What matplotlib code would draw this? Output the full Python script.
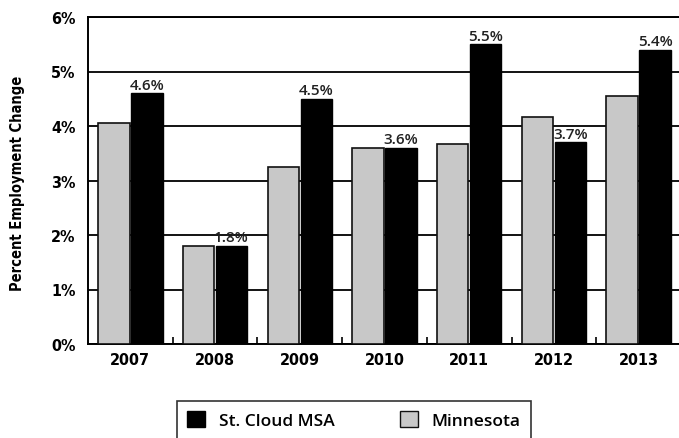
import numpy as np
import matplotlib
matplotlib.use("Agg")
from matplotlib import pyplot as plt
from matplotlib.patches import Patch

years = ["2007", "2008", "2009", "2010", "2011", "2012", "2013"]
minnesota = [4.05, 1.8, 3.25, 3.6, 3.67, 4.17, 4.55]
st_cloud = [4.6, 1.8, 4.5, 3.6, 5.5, 3.7, 5.4]
st_cloud_labels = ["4.6%", "1.8%", "4.5%", "3.6%", "5.5%", "3.7%", "5.4%"]
y_ticks = [0, 1, 2, 3, 4, 5, 6]
y_tick_labels = ["0%", "1%", "2%", "3%", "4%", "5%", "6%"]

W, H = 679, 439
fig = plt.figure(figsize=(W / 100, H / 100), dpi=100)
ax = fig.add_axes([88 / W, (H - 345) / H, (681 - 88) / W, (345 - 18) / H])

x = np.arange(len(years))
bw = 0.37
gap = 0.01
ax.bar(x - bw / 2 - gap, minnesota, bw, color="#c8c8c8", edgecolor="#111111",
       linewidth=1.2, zorder=3)
ax.bar(x + bw / 2 + gap, st_cloud, bw, color="black", edgecolor="black",
       linewidth=1.0, zorder=3)

for xi, v, lab in zip(x, st_cloud, st_cloud_labels):
    ax.text(xi + bw / 2 + gap, v + 0.03, lab, ha="center", va="bottom",
            fontsize=11, family="Open Sans", fontweight="semibold", color="#222222")

ax.set_xlim(-0.5, 6.5)
ax.set_ylim(0, 6)
ax.set_yticks(y_ticks)
ax.set_yticklabels(y_tick_labels)
ax.set_xticks(x)
ax.set_xticklabels(years)
ax.set_xticks(np.arange(0.5, 6.5, 1), minor=True)
ax.tick_params(axis="x", which="major", length=0, pad=6)
ax.tick_params(axis="x", which="minor", direction="in", length=5, width=1.2)
ax.tick_params(axis="y", length=0, pad=9)
for lab in ax.get_xticklabels() + ax.get_yticklabels():
    lab.set_family("DejaVu Sans")
    lab.set_stretch("condensed")
    lab.set_fontweight("bold")
    lab.set_fontsize(11.5)

ax.yaxis.grid(True, color="black", linewidth=1.3, zorder=1)
ax.set_axisbelow(True)
for s in ["left", "top", "bottom"]:
    ax.spines[s].set_linewidth(1.4)
ax.spines["right"].set_visible(False)

fig.text(18 / W, 1 - 183 / H, "Percent Employment Change", rotation=90,
         ha="center", va="center", fontsize=10.5, fontweight="bold",
         family="DejaVu Sans", stretch="condensed")

handles = [Patch(facecolor="black", edgecolor="black", label="St. Cloud MSA"),
           Patch(facecolor="#c8c8c8", edgecolor="#111111", label="Minnesota")]
leg = fig.legend(handles=handles, ncol=2, loc="upper left",
                 bbox_to_anchor=(177 / W, 1 - 402 / H), borderaxespad=0,
                 frameon=True, fancybox=False, edgecolor="black",
                 handlelength=1.0, handleheight=1.0, handletextpad=0.8,
                 columnspacing=3.8, borderpad=0.6,
                 prop={"family": "Open Sans", "weight": "semibold", "size": 12.5})
leg.get_frame().set_linewidth(1.2)

fig.savefig("out.png", dpi=100)
